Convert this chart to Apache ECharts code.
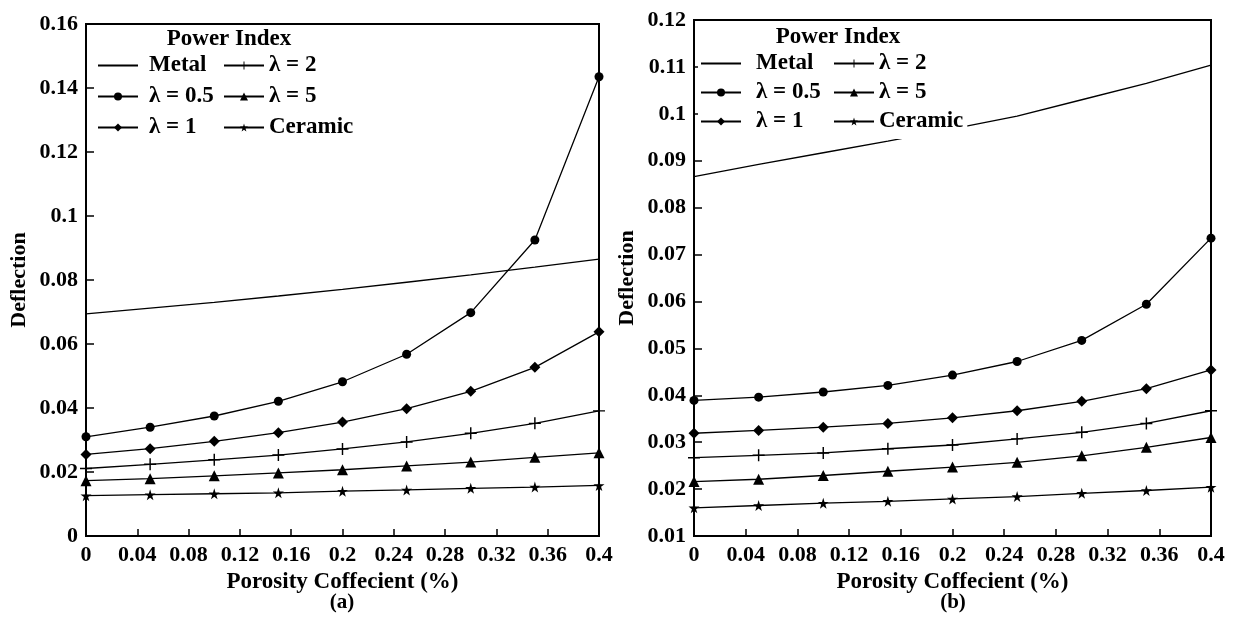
<!DOCTYPE html>
<html>
<head>
<meta charset="utf-8">
<script src="https://cdn.jsdelivr.net/npm/echarts@6/dist/echarts.min.js"></script>
<style>
  html, body { margin: 0; padding: 0; background: #fff; }
  #chart { width: 1237px; height: 621px; }
</style>
</head>
<body>
<div id="chart"></div>
<script>
// Porosity coefficient values shared by both panels
const porosity = [0, 0.05, 0.1, 0.15, 0.2, 0.25, 0.3, 0.35, 0.4];

// Panel (a) deflections
const metalA   = [0.0694, 0.0712, 0.0730, 0.0750, 0.0771, 0.0793, 0.0816, 0.0840, 0.0865];
const lam05A   = [0.0310, 0.0340, 0.0375, 0.0421, 0.0482, 0.0568, 0.0698, 0.0925, 0.1435];
const lam1A    = [0.0255, 0.0273, 0.0296, 0.0323, 0.0356, 0.0398, 0.0452, 0.0527, 0.0638];
const lam2A    = [0.0211, 0.0224, 0.0238, 0.0253, 0.0272, 0.0294, 0.0321, 0.0352, 0.0391];
const lam5A    = [0.0173, 0.0179, 0.0188, 0.0197, 0.0207, 0.0219, 0.0231, 0.0246, 0.0260];
const ceramicA = [0.0126, 0.0129, 0.0132, 0.0135, 0.0140, 0.0144, 0.0149, 0.0153, 0.0158];

// Panel (b) deflections
const metalB   = [0.0866, 0.0892, 0.0917, 0.0942, 0.0968, 0.0995, 0.1030, 0.1065, 0.1104];
const lam05B   = [0.0389, 0.0396, 0.0407, 0.0421, 0.0443, 0.0472, 0.0517, 0.0594, 0.0735];
const lam1B    = [0.0319, 0.0325, 0.0332, 0.0340, 0.0352, 0.0367, 0.0387, 0.0414, 0.0454];
const lam2B    = [0.0267, 0.0272, 0.0277, 0.0286, 0.0294, 0.0307, 0.0321, 0.0340, 0.0367];
const lam5B    = [0.0216, 0.0221, 0.0229, 0.0238, 0.0247, 0.0257, 0.0271, 0.0289, 0.0310];
const ceramicB = [0.0160, 0.0165, 0.0170, 0.0174, 0.0179, 0.0184, 0.0191, 0.0197, 0.0204];

const seriesNames = ['Metal', 'λ = 0.5', 'λ = 1', 'λ = 2', 'λ = 5', 'Ceramic'];
const xTicks = { min: 0, max: 0.4, interval: 0.04 };
const yTicksA = { min: 0, max: 0.16, interval: 0.02 };
const yTicksB = { min: 0.01, max: 0.12, interval: 0.01 };

const FONT = '"Liberation Serif", "Times New Roman", serif';
const INK = '#000';

const PLUS = 'path://M44,0 H56 V44 H100 V56 H56 V100 H44 V56 H0 V44 H44 Z';
const STAR = 'path://M50,0 L61,35 L98,35 L68,57 L79,91 L50,70 L21,91 L32,57 L2,35 L39,35 Z';
const markers = [
  { symbol: 'none', size: 0 },
  { symbol: 'circle', size: 9 },
  { symbol: 'diamond', size: 11 },
  { symbol: PLUS, size: 12 },
  { symbol: 'triangle', size: 11 },
  { symbol: STAR, size: 11 }
];

const fmt = v => String(+v.toFixed(2));

function xAxisFor(gridIndex) {
  return {
    gridIndex, type: 'value', min: xTicks.min, max: xTicks.max, interval: xTicks.interval,
    name: 'Porosity Coffecient (%)', nameLocation: 'middle', nameGap: 24,
    nameTextStyle: { fontFamily: FONT, fontWeight: 'bold', fontSize: 23, color: INK },
    axisLine: { show: true, lineStyle: { color: INK, width: 2 } },
    axisTick: { show: true, inside: true, length: 7, lineStyle: { color: INK, width: 1.5 } },
    axisLabel: { margin: 8, formatter: fmt, fontFamily: FONT, fontWeight: 'bold', fontSize: 22, color: INK },
    splitLine: { show: false }
  };
}
function yAxisFor(gridIndex, t, gap) {
  return {
    gridIndex, type: 'value', min: t.min, max: t.max, interval: t.interval,
    name: 'Deflection', nameLocation: 'middle', nameGap: gap,
    nameTextStyle: { fontFamily: FONT, fontWeight: 'bold', fontSize: 22, color: INK },
    axisLine: { show: true, lineStyle: { color: INK, width: 2 } },
    axisTick: { show: true, inside: true, length: 8, lineStyle: { color: INK, width: 1.5 } },
    axisLabel: { margin: 8, formatter: fmt, fontFamily: FONT, fontWeight: 'bold', fontSize: 22, color: INK },
    splitLine: { show: false }
  };
}

function buildSeries(gridIndex, sets) {
  return sets.map((vals, i) => ({
    name: seriesNames[i],
    type: 'line',
    xAxisIndex: gridIndex, yAxisIndex: gridIndex,
    data: porosity.map((p, k) => [p, vals[k]]),
    symbol: markers[i].symbol,
    symbolSize: markers[i].size,
    showSymbol: markers[i].symbol !== 'none',
    lineStyle: { color: INK, width: 1.3 },
    itemStyle: { color: INK, borderWidth: 0 },
    emphasis: { disabled: true },
    animation: false,
    z: 2
  }));
}

// The plain Metal curve gets a line-only key
const legendItem = name => name === 'Metal'
  ? { name, itemStyle: { opacity: 0 } }
  : { name };

function legendFor(left, top, names, textPad, gap) {
  return {
    orient: 'vertical', left, top, data: names.map(legendItem),
    itemWidth: 40, itemHeight: 10, itemGap: gap,
    padding: [2, 4, 6, 2],
    backgroundColor: '#fff',
    selectedMode: false,
    textStyle: { fontFamily: FONT, fontWeight: 'bold', fontSize: 23, color: INK, padding: [0, 0, 0, textPad] },
    z: 5
  };
}

const chart = echarts.init(document.getElementById('chart'), null, { renderer: 'canvas' });
chart.setOption({
  backgroundColor: '#fff',
  animation: false,
  grid: [
    { left: 86, top: 24, width: 513, height: 512, show: true, borderColor: INK, borderWidth: 2, backgroundColor: 'transparent' },
    { left: 694, top: 20, width: 517, height: 516, show: true, borderColor: INK, borderWidth: 2, backgroundColor: 'transparent' }
  ],
  xAxis: [xAxisFor(0), xAxisFor(1)],
  yAxis: [yAxisFor(0, yTicksA, 56), yAxisFor(1, yTicksB, 56)],
  legend: [
    legendFor(95, 52, ['Metal', 'λ = 0.5', 'λ = 1'], 6, 8),
    legendFor(221, 52, ['λ = 2', 'λ = 5', 'Ceramic'], 0, 8),
    legendFor(698, 50, ['Metal', 'λ = 0.5', 'λ = 1'], 10, 6),
    legendFor(831, 50, ['λ = 2', 'λ = 5', 'Ceramic'], 0, 6)
  ],
  graphic: [
    { type: 'text', x: 229, y: 39, z: 10, style: { text: 'Power Index', textAlign: 'center', textVerticalAlign: 'middle', font: 'bold 23px ' + FONT, fill: INK } },
    { type: 'text', x: 838, y: 37, z: 10, style: { text: 'Power Index', textAlign: 'center', textVerticalAlign: 'middle', font: 'bold 23px ' + FONT, fill: INK } },
    { type: 'text', x: 342, y: 603, style: { text: '(a)', textAlign: 'center', textVerticalAlign: 'middle', font: 'bold 21px ' + FONT, fill: INK } },
    { type: 'text', x: 953, y: 603, style: { text: '(b)', textAlign: 'center', textVerticalAlign: 'middle', font: 'bold 21px ' + FONT, fill: INK } }
  ],
  series: [
    ...buildSeries(0, [metalA, lam05A, lam1A, lam2A, lam5A, ceramicA]),
    ...buildSeries(1, [metalB, lam05B, lam1B, lam2B, lam5B, ceramicB])
  ]
});
</script>
</body>
</html>
